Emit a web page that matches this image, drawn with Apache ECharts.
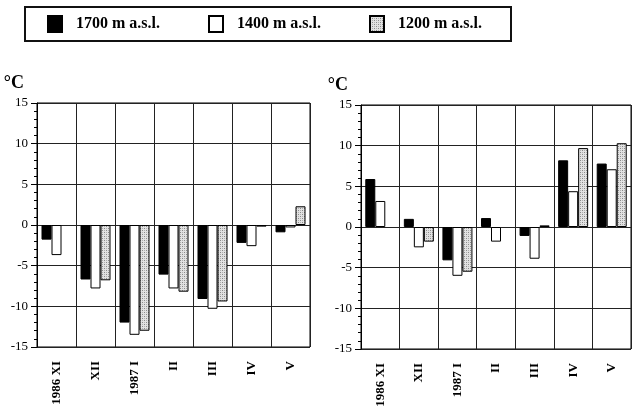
<!DOCTYPE html>
<html>
<head>
<meta charset="utf-8">
<script src="https://cdn.jsdelivr.net/npm/echarts@6/dist/echarts.min.js"></script>
<style>
html, body { margin: 0; padding: 0; background: #fff; }
#chart { width: 632px; height: 411px; }
</style>
</head>
<body>
<div id="chart"></div>
<script>
// months
var categories = ['1986 XI', 'XII', '1987 I', 'II', 'III', 'IV', 'V'];
var seriesNames = ['1700 m a.s.l.', '1400 m a.s.l.', '1200 m a.s.l.'];
var yTicks = [-15, -10, -5, 0, 5, 10, 15];

// left panel
var left1700 = [-1.8, -6.7, -12.0, -6.1, -9.1, -2.2, -0.9];
var left1400 = [-3.7, -7.8, -13.5, -7.8, -10.3, -2.6, -0.3];
var left1200 = [null, -6.8, -13.0, -8.2, -9.4, -0.2, 2.3];

// right panel
var right1700 = [5.9, 1.0, -4.1, 1.1, -1.1, 8.2, 7.8];
var right1400 = [3.2, -2.5, -6.0, -1.8, -3.9, 4.4, 7.1];
var right1200 = [null, -1.8, -5.5, null, 0.2, 9.7, 10.3];

// dotted grey fill like the print
function dotPattern() {
	var c = document.createElement('canvas');
	c.width = 4; c.height = 4;
	var ctx = c.getContext('2d');
	ctx.fillStyle = '#e2e2e2';
	ctx.fillRect(0, 0, 4, 4);
	ctx.fillStyle = '#8a8a8a';
	ctx.fillRect(0, 0, 1, 1);
	ctx.fillRect(2, 2, 1, 1);
	ctx.fillStyle = '#b0b0b0';
	ctx.fillRect(2, 0, 1, 1);
	ctx.fillRect(0, 2, 1, 1);
	return { image: c, repeat: 'repeat' };
}

var fills = ['#000', '#fff', dotPattern()];
var serif = 'Liberation Serif';

var chart = echarts.init(document.getElementById('chart'), null, { renderer: 'canvas' });

function xAxis(idx) {
	return {
		type: 'category',
		gridIndex: idx,
		data: categories,
		position: 'bottom',
		axisLine: { show: false },
		axisTick: { show: false },
		splitLine: { show: true, lineStyle: { color: '#222', width: 1 } },
		axisLabel: {
			rotate: 90,
			margin: 14,
			interval: 0,
			color: '#000',
			fontFamily: serif,
			fontWeight: 'bold',
			fontSize: 13
		}
	};
}

function yAxis(idx) {
	return {
		type: 'value',
		gridIndex: idx,
		min: yTicks[0],
		max: yTicks[yTicks.length - 1],
		interval: 5,
		name: '°C',
		nameLocation: 'end',
		nameGap: 20,
		nameTextStyle: {
			color: '#000',
			fontFamily: serif,
			fontWeight: 'bold',
			fontSize: 18,
			align: 'right',
			verticalAlign: 'middle',
			padding: [0, 13, 0, 0]
		},
		axisLine: { show: true, lineStyle: { color: '#000', width: 1 } },
		axisTick: { show: true, length: 6, lineStyle: { color: '#000' } },
		minorTick: { show: true, splitNumber: 5, length: 3, lineStyle: { color: '#000' } },
		splitLine: { show: true, lineStyle: { color: '#222', width: 1 } },
		axisLabel: {
			margin: 9,
			color: '#000',
			fontFamily: serif,
			fontSize: 13
		}
	};
}

function bars(idx, values) {
	return values.map(function (v, i) {
		return {
			name: seriesNames[i],
			type: 'bar',
			xAxisIndex: idx,
			yAxisIndex: idx,
			barWidth: 10,
			barGap: '0%',
			data: v,
			itemStyle: { color: fills[i], borderColor: '#000', borderWidth: 1 },
			emphasis: { disabled: true }
		};
	});
}

var option = {
	animation: false,
	backgroundColor: '#fff',
	legend: {
		data: seriesNames,
		icon: 'rect',
		left: 25,
		top: 7,
		orient: 'horizontal',
		padding: [8, 29, 8, 22],
		itemGap: 48,
		itemWidth: 14,
		itemHeight: 16,
		borderColor: '#111',
		borderWidth: 2,
		selectedMode: false,
		textStyle: {
			color: '#000',
			fontFamily: serif,
			fontWeight: 'bold',
			fontSize: 16,
			padding: [0, 0, 0, 9]
		}
	},
	grid: [
		{ left: 37, top: 103, width: 273, height: 244, show: true, borderColor: '#000', borderWidth: 1, containLabel: false },
		{ left: 361, top: 105, width: 270, height: 244, show: true, borderColor: '#000', borderWidth: 1, containLabel: false }
	],
	xAxis: [xAxis(0), xAxis(1)],
	yAxis: [yAxis(0), yAxis(1)],
	series: bars(0, [left1700, left1400, left1200]).concat(bars(1, [right1700, right1400, right1200]))
};

chart.setOption(option);
</script>
</body>
</html>
